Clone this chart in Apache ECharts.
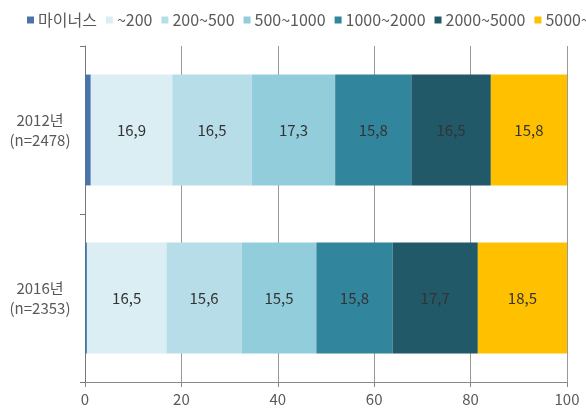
<!DOCTYPE html>
<html>
<head>
<meta charset="utf-8">
<script src="https://cdn.jsdelivr.net/npm/echarts@6/dist/echarts.min.js"></script>
<style>
  html, body { margin: 0; padding: 0; background: #fff; }
  #chart { width: 586px; height: 410px; }
</style>
</head>
<body>
<div id="chart"></div>
<script>
// Survey years (top to bottom)
const categories = ['2012년\n(n=2478)', '2016년\n(n=2353)'];
// Income bands (stack order left to right)
const bandNames = ['마이너스', '~200', '200~500', '500~1000', '1000~2000', '2000~5000', '5000~'];
// Share (%) per band, one array per year
const values2012 = [1.2, 16.9, 16.5, 17.3, 15.8, 16.5, 15.8];
const values2016 = [0.4, 16.5, 15.6, 15.5, 15.8, 17.7, 18.5];
const bandColors = ['#4A74A8', '#DAEEF3', '#B7DEE8', '#92CDDC', '#31859C', '#215968', '#FFC000'];
const xTicks = [0, 20, 40, 60, 80, 100];

const FONT = '"Noto Sans CJK KR", "Noto Sans", sans-serif';

const series = bandNames.map((name, i) => ({
  name: name,
  type: 'bar',
  stack: 'total',
  barWidth: '66%',
  itemStyle: { color: bandColors[i] },
  label: {
    show: i > 0,
    position: 'inside',
    color: '#333',
    fontSize: 15,
    fontFamily: FONT,
    formatter: p => p.value.toFixed(1).replace('.', ',')
  },
  data: [values2012[i], values2016[i]]
}));

const chart = echarts.init(document.getElementById('chart'), null, { renderer: 'canvas' });
chart.setOption({
  animation: false,
  textStyle: { fontFamily: FONT },
  legend: {
    left: 22,
    top: 7,
    width: 900,
    itemWidth: 7,
    itemHeight: 7,
    itemGap: 9,
    icon: 'rect',
    textStyle: { color: '#595959', fontSize: 16, fontFamily: FONT, padding: [0, 0, 0, -1] },
    data: bandNames
  },
  grid: { left: 85, right: 19, top: 46, bottom: 28, containLabel: false },
  xAxis: {
    type: 'value',
    min: 0,
    max: 100,
    interval: 20,
    axisLine: { show: true, lineStyle: { color: '#888', width: 1 } },
    axisTick: { show: true, length: 5, inside: false, lineStyle: { color: '#888' } },
    splitLine: { show: true, lineStyle: { color: '#999', width: 1 } },
    axisLabel: {
      color: '#595959', fontSize: 15, fontFamily: FONT, margin: 10,
      formatter: v => xTicks.includes(v) ? String(v) : ''
    }
  },
  yAxis: {
    type: 'category',
    inverse: true,
    data: categories,
    axisLine: { show: true, lineStyle: { color: '#777', width: 1 } },
    axisTick: { show: true, length: 5, lineStyle: { color: '#777' } },
    axisLabel: {
      color: '#595959', fontSize: 15, fontFamily: FONT, lineHeight: 20,
      margin: 45, align: 'center'
    }
  },
  series: series
});
</script>
</body>
</html>
